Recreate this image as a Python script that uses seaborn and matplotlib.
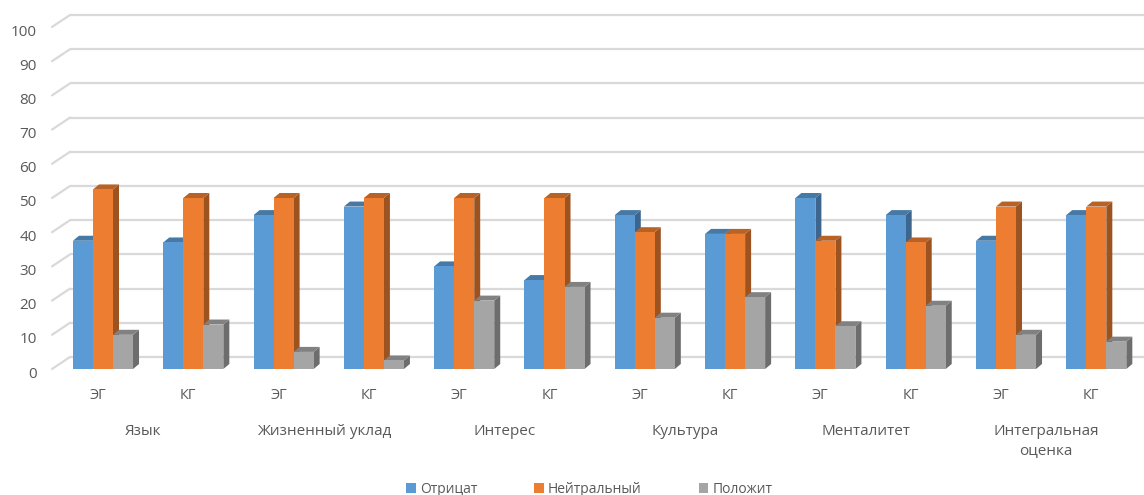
import numpy as np
import pandas as pd
import matplotlib
matplotlib.use("Agg")
import matplotlib.pyplot as plt
import seaborn as sns
from matplotlib.patches import Polygon
from matplotlib.lines import Line2D
from matplotlib.transforms import IdentityTransform, blended_transform_factory, offset_copy
import matplotlib.colors as mcolors

# --- data -------------------------------------------------------------
groups = ["Язык", "Жизненный уклад", "Интерес", "Культура", "Менталитет",
          "Интегральная\nоценка"]
subgroups = ["ЭГ", "КГ"]
series = ["Отрицат", "Нейтральный", "Положит"]

negative = [37.5, 37, 45, 47.5, 30, 26, 45, 39.5, 50, 45, 37.5, 45]
neutral = [52.5, 50, 50, 50, 50, 50, 40, 39.5, 37.5, 37, 47.5, 47.5]
positive = [10, 13, 5, 2.5, 20, 24, 15, 21, 12.5, 18.5, 10, 8]

y_ticks = [0, 10, 20, 30, 40, 50, 60, 70, 80, 90, 100]
colors = ["#5B9BD5", "#ED7D31", "#A5A5A5"]

# --- long table for seaborn --------------------------------------------
keys = [f"{g}|{s}" for g in groups for s in subgroups]
tick_labels = [s for g in groups for s in subgroups]
rows = []
for name, vals in zip(series, [negative, neutral, positive]):
    for k, v in zip(keys, vals):
        rows.append({"key": k, "series": name, "value": v})
df = pd.DataFrame(rows)

sns.set_theme(style="white")
plt.rcParams["font.family"] = ["Open Sans", "DejaVu Sans"]
text_color = "#595959"

W, H, DPI = 1144, 495, 100
fig = plt.figure(figsize=(W / DPI, H / DPI), dpi=DPI)

# axes: front floor edge from x=52 px, value 0 at y=369 px, 100 at y=27 px
ax_left, ax_right = 52, 1144
ax_bottom, ax_top = 369, 27
ax = fig.add_axes([ax_left / W, (H - ax_bottom) / H,
                   (ax_right - ax_left) / W, (ax_bottom - ax_top) / H])

sns.barplot(data=df, x="key", y="value", hue="series", order=keys,
            hue_order=series, palette=colors, saturation=1, width=0.665,
            linewidth=0, edgecolor="none", legend=False, ax=ax, zorder=3)

pitch = 90.3
x0_lim = -(103 - ax_left) / pitch
x1_lim = x0_lim + (ax_right - ax_left) / pitch
ax.set_xlim(x0_lim, x1_lim)
ax.set_ylim(0, 100)
for sp in ax.spines.values():
    sp.set_visible(False)
ax.grid(False)
ax.set_xlabel("")
ax.set_ylabel("")

# --- back wall gridlines with perspective offset ------------------------
dx_wall, dy_wall = 18, 12
back = offset_copy(ax.transData, fig=fig, x=dx_wall, y=dy_wall, units="dots")
grid_color = "#D9D9D9"
for v in y_ticks:
    ax.plot([x0_lim, x1_lim], [v, v], color=grid_color, lw=1.6,
            transform=back, zorder=1, clip_on=False, solid_capstyle="butt")
    p = ax.transData.transform((x0_lim, v))
    ax.add_line(Line2D([p[0], p[0] + dx_wall], [p[1], p[1] + dy_wall],
                       color=grid_color, lw=1.6, transform=IdentityTransform(),
                       zorder=1, clip_on=False))

# --- bar depth: side and top faces ---------------------------------------
dx_bar, dy_bar = 6, 5
bars = [p for p in ax.patches if hasattr(p, "get_height")]
for b in bars:
    h = b.get_height()
    if not np.isfinite(h) or h <= 0:
        continue
    xa, xb = b.get_x(), b.get_x() + b.get_width()
    (px0, py0) = ax.transData.transform((xa, 0))
    (px1, py1) = ax.transData.transform((xb, h))
    base = np.array(mcolors.to_rgb(b.get_facecolor()))
    side_c = base * 0.66
    top_c = base * 0.78
    side = Polygon([(px1, py0), (px1 + dx_bar, py0 + dy_bar),
                    (px1 + dx_bar, py1 + dy_bar), (px1, py1)],
                   closed=True, facecolor=side_c, edgecolor="none",
                   transform=IdentityTransform(), zorder=2.5)
    top = Polygon([(px0, py1), (px0 + dx_bar, py1 + dy_bar),
                   (px1 + dx_bar, py1 + dy_bar), (px1, py1)],
                  closed=True, facecolor=top_c, edgecolor="none",
                  transform=IdentityTransform(), zorder=2.5)
    ax.add_patch(side)
    ax.add_patch(top)

# --- axis labels ----------------------------------------------------------
ax.set_yticks(y_ticks)
ax.set_yticklabels([str(v) for v in y_ticks])
ax.tick_params(axis="y", length=0, pad=11, labelsize=11, labelcolor=text_color)
for lbl in ax.get_yticklabels():
    lbl.set_transform(offset_copy(lbl.get_transform(), fig=fig, x=0, y=-3,
                                  units="dots"))
ax.set_xticks(range(len(keys)))
ax.set_xticklabels(tick_labels)
ax.tick_params(axis="x", length=0, pad=13.5, labelsize=10.5,
               labelcolor=text_color)
for lbl in ax.get_xticklabels():
    lbl.set_transform(offset_copy(lbl.get_transform(), fig=fig, x=-5, y=0,
                                  units="dots"))

grp_tr = offset_copy(blended_transform_factory(ax.transData, ax.transAxes),
                     fig=fig, x=-5, y=0, units="dots")
for i, g in enumerate(groups):
    ax.text(2 * i + 0.5, -(424 - ax_bottom) / (ax_bottom - ax_top), g,
            transform=grp_tr, ha="center", va="top", fontsize=11,
            color=text_color, linespacing=1.37)

# --- legend ---------------------------------------------------------------
handles = [plt.Rectangle((0, 0), 1, 1, facecolor=c, edgecolor="none")
           for c in colors]
fig.legend(handles, series, loc="center", bbox_to_anchor=(0.515, 0.012),
           ncol=3, frameon=False, fontsize=10, labelcolor=text_color,
           handlelength=0.7, handleheight=0.7, handletextpad=0.3,
           columnspacing=4.1)

fig.savefig("out.png", dpi=DPI)
